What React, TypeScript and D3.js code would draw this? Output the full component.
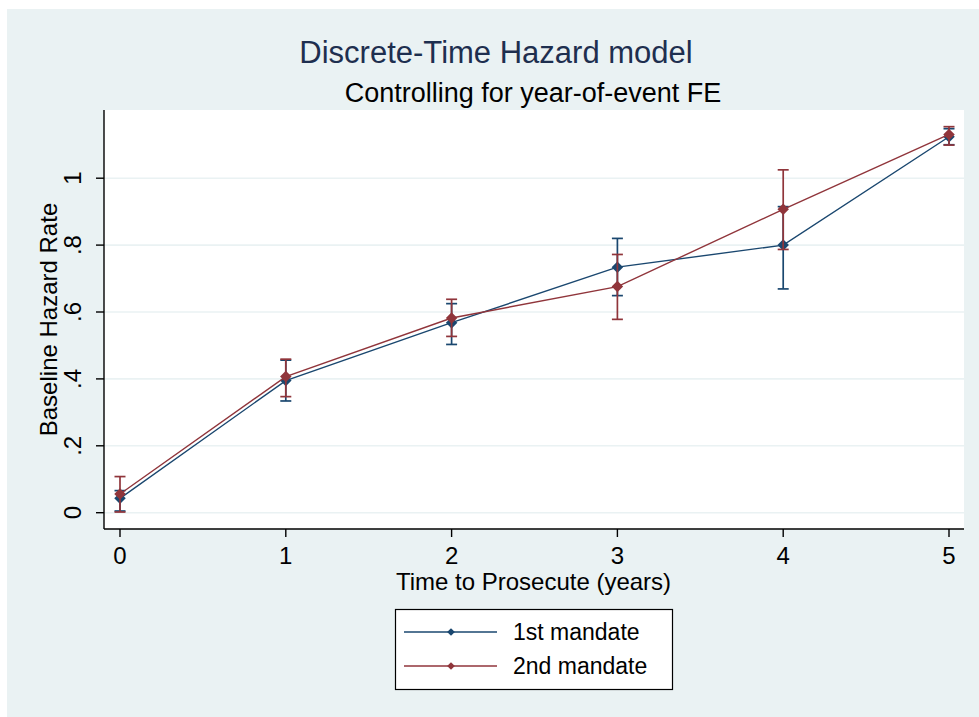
import * as d3 from 'd3';

// time to prosecute (years)
const years = [0, 1, 2, 3, 4, 5];

// 1st mandate: estimate and confidence interval
const first = [0.043, 0.395, 0.568, 0.734, 0.8, 1.124];
const firstLo = [0.005, 0.334, 0.503, 0.649, 0.669, 1.1];
const firstHi = [0.066, 0.456, 0.625, 0.82, 0.915, 1.148];

// 2nd mandate
const second = [0.056, 0.407, 0.582, 0.676, 0.907, 1.131];
const secondLo = [0.002, 0.347, 0.527, 0.578, 0.787, 1.099];
const secondHi = [0.108, 0.459, 0.638, 0.772, 1.025, 1.154];

const yTicks = [0, 0.2, 0.4, 0.6, 0.8, 1];
const yTickLabels = ['0', '.2', '.4', '.6', '.8', '1'];

const series = [
  { name: '1st mandate', color: '#1a476f', est: first, lo: firstLo, hi: firstHi },
  { name: '2nd mandate', color: '#90353b', est: second, lo: secondLo, hi: secondHi },
];

const W = 979;
const H = 717;
const plot = { left: 104, top: 110, right: 964, bottom: 529 };
const font = '"Liberation Sans", Arial, sans-serif';

const App = () => {
  const x = d3.scaleLinear().domain([0, 5]).range([120, 949]);
  const y = d3.scaleLinear().domain([0, 1]).range([512.7, 178.2]);

  const line = d3.line<number>()
    .x((_, i) => x(years[i]))
    .y((d) => y(d));

  const diamond = (size: number) => d3.symbol().type(d3.symbolSquare).size(size)();

  return (
    <svg width={W} height={H} style={{ position: 'absolute', left: 0, top: 0 }} fontFamily={font}>
      <rect x={0} y={0} width={W} height={H} fill="#ffffff" />
      <rect x={7} y={9} width={W - 7} height={H - 9} fill="#eaf2f3" />
      <rect x={plot.left} y={plot.top} width={plot.right - plot.left} height={plot.bottom - plot.top} fill="#ffffff" />

      {/* gridlines */}
      {yTicks.map((t) => (
        <line key={t} x1={plot.left} x2={plot.right} y1={y(t)} y2={y(t)} stroke="#eaf2f3" strokeWidth={1.6} />
      ))}

      {/* titles */}
      <text x={496} y={63} textAnchor="middle" fontSize={31} fill="#1e2f4f">Discrete-Time Hazard model</text>
      <text x={533} y={101.5} textAnchor="middle" fontSize={27} fill="#000">Controlling for year-of-event FE</text>

      {/* axes */}
      <line x1={plot.left} x2={plot.left} y1={plot.top} y2={plot.bottom} stroke="#000" strokeWidth={1.4} />
      <line x1={plot.left} x2={plot.right} y1={plot.bottom} y2={plot.bottom} stroke="#000" strokeWidth={1.4} />
      {yTicks.map((t, i) => (
        <g key={t}>
          <line x1={plot.left - 8} x2={plot.left} y1={y(t)} y2={y(t)} stroke="#000" strokeWidth={1.4} />
          <text transform={`translate(81,${y(t)}) rotate(-90)`} textAnchor="middle" fontSize={24} fill="#000">{yTickLabels[i]}</text>
        </g>
      ))}
      {years.map((t) => (
        <g key={t}>
          <line x1={x(t)} x2={x(t)} y1={plot.bottom} y2={plot.bottom + 8} stroke="#000" strokeWidth={1.4} />
          <text x={x(t)} y={563.5} textAnchor="middle" fontSize={24} fill="#000">{t}</text>
        </g>
      ))}
      <text transform={`translate(57,${(plot.top + plot.bottom) / 2}) rotate(-90)`} textAnchor="middle" fontSize={24} fill="#000">Baseline Hazard Rate</text>
      <text x={533.5} y={589.5} textAnchor="middle" fontSize={24} fill="#000">Time to Prosecute (years)</text>

      {/* series */}
      {series.map((s) => (
        <g key={s.name}>
          {years.map((t, i) => (
            <g key={t} stroke={s.color} strokeWidth={1.7}>
              <line x1={x(t)} x2={x(t)} y1={y(s.lo[i])} y2={y(s.hi[i])} />
              <line x1={x(t) - 5.5} x2={x(t) + 5.5} y1={y(s.lo[i])} y2={y(s.lo[i])} />
              <line x1={x(t) - 5.5} x2={x(t) + 5.5} y1={y(s.hi[i])} y2={y(s.hi[i])} />
            </g>
          ))}
          <path d={line(s.est) ?? ''} fill="none" stroke={s.color} strokeWidth={1.4} />
          {years.map((t, i) => (
            <path key={t} d={diamond(66)} transform={`translate(${x(t)},${y(s.est[i])}) rotate(45)`} fill={s.color} />
          ))}
        </g>
      ))}

      {/* legend */}
      <rect x={395.5} y={609.5} width={277} height={80} fill="#ffffff" stroke="#000" strokeWidth={1.2} />
      {series.map((s, i) => {
        const ly = 632 + i * 34;
        return (
          <g key={s.name}>
            <line x1={404} x2={497} y1={ly} y2={ly} stroke={s.color} strokeWidth={1.4} />
            <path d={diamond(30)} transform={`translate(451,${ly}) rotate(45)`} fill={s.color} />
            <text x={513} y={ly + 8.3} fontSize={23} fill="#000">{s.name}</text>
          </g>
        );
      })}
    </svg>
  );
};

export default App;
